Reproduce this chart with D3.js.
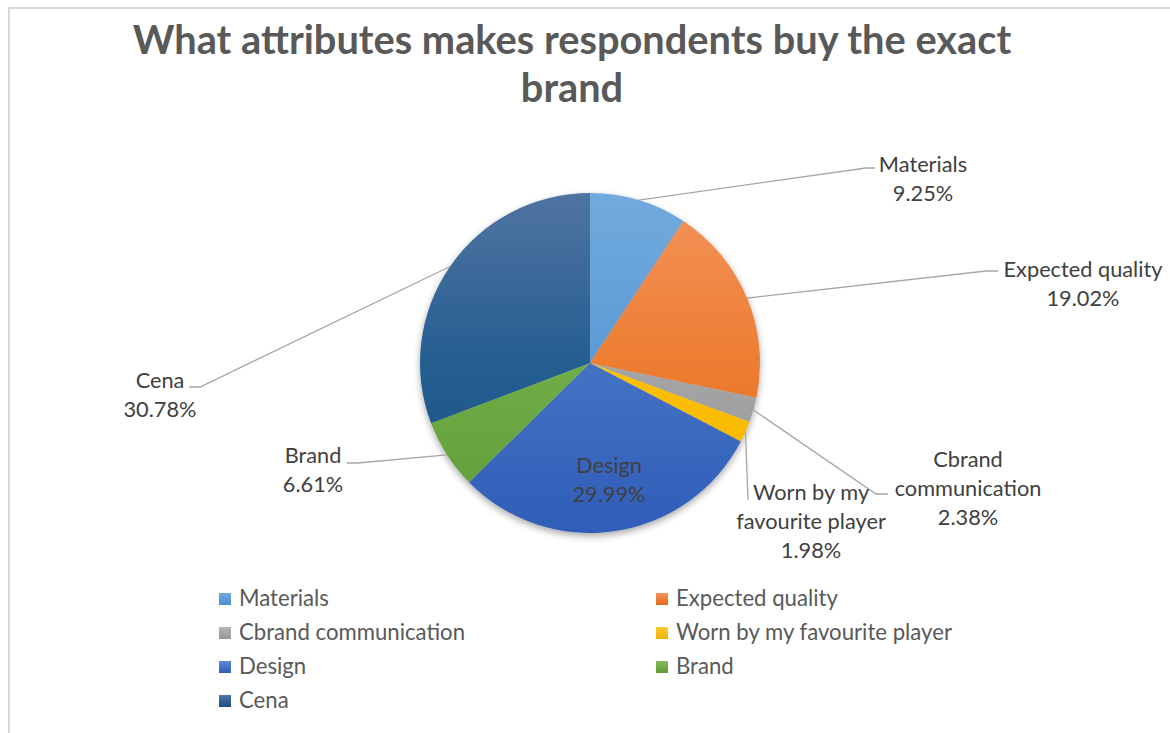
<!DOCTYPE html>
<html>
<head>
<meta charset="utf-8">
<script src="https://cdn.jsdelivr.net/npm/d3@7"></script>
<style>
  body { margin: 0; background: #ffffff; }
  svg { display: block; }
  text { font-family: Lato, "Open Sans", sans-serif; }
</style>
</head>
<body>
<svg id="chart" width="1170" height="733"></svg>
<script>
// ---- data ----
const categories = ["Materials", "Expected quality", "Cbrand communication",
  "Worn by my favourite player", "Design", "Brand", "Cena"];
const shares = [9.25, 19.02, 2.38, 1.98, 29.99, 6.61, 30.78];
// label text broken into lines as shown next to each slice
const labelLines = [["Materials"], ["Expected quality"], ["Cbrand", "communication"],
  ["Worn by my", "favourite player"], ["Design"], ["Brand"], ["Cena"]];
const titleLines = ["What attributes makes respondents buy the exact", "brand"];

// ---- styling ----
// [top, middle, bottom] gradient stops per slice
const palette = [
  ["#72aadd", "#5b9bd5", "#4a8fd2"],
  ["#f3935c", "#ed7d31", "#e46a18"],
  ["#b5b5b5", "#a5a5a5", "#969696"],
  ["#ffcb33", "#ffc000", "#eeb300"],
  ["#6489d4", "#4472c4", "#2f5db8"],
  ["#84ba60", "#70ad47", "#5e9c36"],
  ["#4f74a1", "#255e91", "#1b4f87"]
];
const cx = 590, cy = 363, radius = 170;

// label placement: anchor x, first baseline y, leader path points after the arc point
const labelLayout = [
  { x: 923, y: 172, leader: [[866, 168], [875, 168]] },
  { x: 1083, y: 277, leader: [[986, 271], [998, 271]] },
  { x: 968, y: 467, leader: [[876, 494], [888, 494]] },
  { x: 811, y: 500, leader: [[748, 500]] },
  { x: 609, y: 473, leader: null },
  { x: 313, y: 463, leader: [[358, 463], [347, 463]] },
  { x: 160, y: 388, leader: [[200, 387], [189, 387]] }
];
const lineGap = 29;

const svg = d3.select("#chart");
const defs = svg.append("defs");

// vertical gradients spanning the whole pie (pie group is centred, so -r..r)
palette.forEach((c, i) => {
  const g = defs.append("linearGradient")
    .attr("id", "slice" + i)
    .attr("gradientUnits", "userSpaceOnUse")
    .attr("x1", 0).attr("x2", 0)
    .attr("y1", -radius).attr("y2", radius);
  g.append("stop").attr("offset", "0%").attr("stop-color", c[0]);
  g.append("stop").attr("offset", "50%").attr("stop-color", c[1]);
  g.append("stop").attr("offset", "100%").attr("stop-color", c[2]);
  const m = defs.append("linearGradient")
    .attr("id", "key" + i)
    .attr("x1", 0).attr("x2", 0).attr("y1", 0).attr("y2", 1);
  m.append("stop").attr("offset", "0%").attr("stop-color", c[0]);
  m.append("stop").attr("offset", "100%").attr("stop-color", c[2]);
});

const shadow = defs.append("filter").attr("id", "pieShadow")
  .attr("x", "-20%").attr("y", "-20%").attr("width", "140%").attr("height", "140%");
shadow.append("feDropShadow").attr("dx", 0).attr("dy", 3)
  .attr("stdDeviation", 3.5).attr("flood-color", "#000").attr("flood-opacity", 0.35);

// chart area frame (top and left edges visible)
svg.append("path")
  .attr("d", "M1170,8H9V733")
  .attr("fill", "none").attr("stroke", "#d9d9d9").attr("stroke-width", 2);

// ---- title ----
const title = svg.append("text")
  .attr("text-anchor", "middle")
  .attr("fill", "#595959")
  .attr("font-weight", 700)
  .attr("font-size", 40);
title.selectAll("tspan").data(titleLines).join("tspan")
  .attr("x", 572)
  .attr("y", (d, i) => 54 + i * 48)
  .text(d => d);
// size the title so its first line spans the intended width
{
  const w = title.select("tspan").node().getComputedTextLength();
  title.attr("font-size", 40 * 879 / w);
}

// ---- pie ----
const pie = d3.pie().sort(null).value(d => d)
  .startAngle(0).endAngle(2 * Math.PI);
const arcs = pie(shares);
const arc = d3.arc().innerRadius(0).outerRadius(radius);

const g = svg.append("g").attr("transform", `translate(${cx},${cy})`);
g.append("g").attr("filter", "url(#pieShadow)")
  .selectAll("path").data(arcs).join("path")
  .attr("d", arc)
  .attr("fill", (d, i) => `url(#slice${i})`);

// ---- leader lines ----
const edgePoint = d => {
  const a = (d.startAngle + d.endAngle) / 2;
  return [cx + radius * Math.sin(a), cy - radius * Math.cos(a)];
};
const line = d3.line();
svg.append("g").selectAll("path")
  .data(arcs.filter((d, i) => labelLayout[i].leader))
  .join("path")
  .attr("d", d => line([edgePoint(d)].concat(labelLayout[d.index].leader)))
  .attr("fill", "none")
  .attr("stroke", "#a6a6a6")
  .attr("stroke-width", 1.3);

// ---- data labels ----
const fmt = v => d3.format(".2f")(v) + "%";
const labels = svg.append("g")
  .attr("fill", "#404040")
  .attr("text-anchor", "middle")
  .attr("font-size", 20);
const labelText = labels.selectAll("text").data(arcs).join("text");
labelText.each(function (d) {
  const t = d3.select(this);
  const pos = labelLayout[d.index];
  const lines = labelLines[d.index].concat([fmt(d.data)]);
  t.selectAll("tspan").data(lines).join("tspan")
    .attr("x", pos.x)
    .attr("y", (s, k) => pos.y + k * lineGap)
    .text(s => s);
});
{
  const ref = labelText.filter(d => d.index === 1).select("tspan").node();
  const w = ref.getComputedTextLength();
  labels.attr("font-size", 20 * 159 / w);
}

// ---- legend ----
const legendCols = [219, 656];
const legendRows = [599, 633, 667, 701];
const legend = svg.append("g");
const item = legend.selectAll("g").data(categories).join("g")
  .attr("transform", (d, i) =>
    `translate(${legendCols[i % 2]},${legendRows[Math.floor(i / 2)]})`);
item.append("rect")
  .attr("x", 0).attr("y", -6).attr("width", 12).attr("height", 12)
  .attr("fill", (d, i) => `url(#key${i})`);
const legendText = item.append("text")
  .attr("x", 20).attr("y", 7)
  .attr("fill", "#595959")
  .attr("font-size", 20)
  .text(d => d);
{
  const w = legendText.filter((d, i) => i === 3).node().getComputedTextLength();
  legendText.attr("font-size", 20 * 276 / w);
}
</script>
</body>
</html>
